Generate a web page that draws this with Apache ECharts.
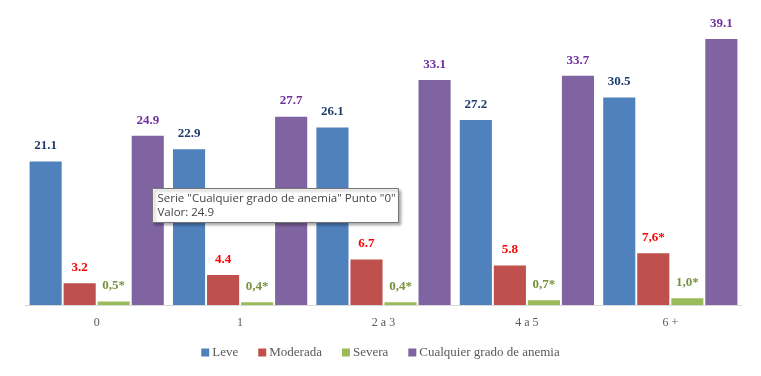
<!DOCTYPE html>
<html>
<head>
<meta charset="utf-8">
<script src="https://cdn.jsdelivr.net/npm/echarts@6/dist/echarts.min.js"></script>
<style>
  html, body { margin: 0; padding: 0; background: #fff; }
  #chart { width: 761px; height: 376px; }
</style>
</head>
<body>
<div id="chart"></div>
<script>
var categories = ['0', '1', '2 a 3', '4 a 5', '6 +'];
var leve = [21.1, 22.9, 26.1, 27.2, 30.5];
var moderada = [3.2, 4.4, 6.7, 5.8, 7.6];
var severa = [0.5, 0.4, 0.4, 0.7, 1.0];
var cualquier = [24.9, 27.7, 33.1, 33.7, 39.1];
// labels as printed on the chart (some with comma and asterisk)
var leveLabels = ['21.1', '22.9', '26.1', '27.2', '30.5'];
var moderadaLabels = ['3.2', '4.4', '6.7', '5.8', '7,6*'];
var severaLabels = ['0,5*', '0,4*', '0,4*', '0,7*', '1,0*'];
var cualquierLabels = ['24.9', '27.7', '33.1', '33.7', '39.1'];

var chart = echarts.init(document.getElementById('chart'));

function serie(name, data, labels, color, labelColor) {
    return {
        name: name,
        type: 'bar',
        data: data,
        barGap: '6%',
        barCategoryGap: '6.4%',
        itemStyle: { color: color },
        label: {
            show: true,
            position: 'top',
            distance: 9,
            color: labelColor,
            fontFamily: 'Liberation Serif',
            fontWeight: 'bold',
            fontSize: 13,
            formatter: function (p) { return labels[p.dataIndex]; }
        }
    };
}

var option = {
    animation: false,
    grid: { left: 25, right: 19, top: 33, bottom: 71 },
    legend: {
        bottom: 12,
        left: 'center',
        itemWidth: 8,
        itemHeight: 8,
        itemGap: 20,
        icon: 'rect',
        textStyle: { fontFamily: 'Liberation Serif', fontSize: 13, color: '#595959', padding: [0, 0, 0, -2] },
        data: ['Leve', 'Moderada', 'Severa', 'Cualquier grado de anemia']
    },
    xAxis: {
        type: 'category',
        data: categories,
        axisLine: { lineStyle: { color: '#d9d9d9' } },
        axisTick: { show: false },
        axisLabel: { fontFamily: 'Liberation Serif', fontSize: 12, color: '#595959', margin: 12 }
    },
    yAxis: {
        type: 'value',
        min: 0,
        max: 40,
        show: false,
        splitLine: { show: false }
    },
    series: [
        serie('Leve', leve, leveLabels, '#4f81bd', '#1f3e6e'),
        serie('Moderada', moderada, moderadaLabels, '#c0504d', '#ff0000'),
        serie('Severa', severa, severaLabels, '#9bbb59', '#76923c'),
        serie('Cualquier grado de anemia', cualquier, cualquierLabels, '#8064a2', '#7030a0')
    ],
    graphic: [{
        type: 'group',
        left: 152,
        top: 188,
        z: 100,
        children: [{
            type: 'rect',
            z: 100,
            shape: { x: 0, y: 0, width: 246, height: 34 },
            style: {
                fill: '#fff',
                stroke: '#767676',
                lineWidth: 1,
                shadowBlur: 3,
                shadowOffsetX: 2,
                shadowOffsetY: 2,
                shadowColor: 'rgba(0,0,0,0.35)'
            }
        }, {
            type: 'text',
            z: 101,
            x: 5,
            y: 3,
            style: {
                text: 'Serie "Cualquier grado de anemia" Punto "0"\nValor: 24.9',
                fontFamily: 'Open Sans',
                fontSize: 11.5,
                lineHeight: 14,
                fill: '#454545'
            }
        }]
    }]
};

chart.setOption(option);
</script>
</body>
</html>
